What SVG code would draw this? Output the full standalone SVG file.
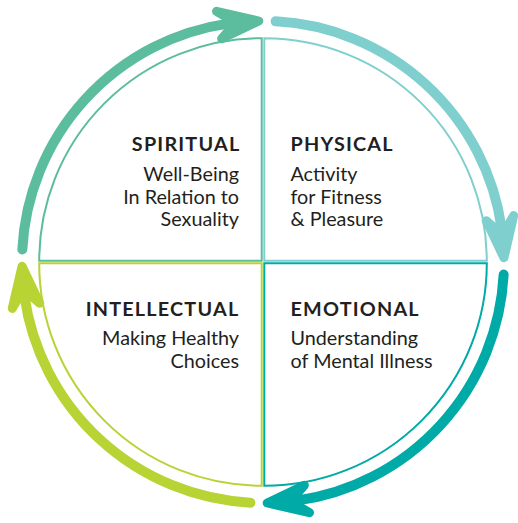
<svg xmlns="http://www.w3.org/2000/svg" width="518" height="523" viewBox="0 0 518 523">
<style>
.q{fill:none;stroke-width:2}
.shaft{fill:none;stroke-width:10;stroke-linecap:round}
.head{stroke-width:9;stroke-linejoin:round}
.c1{stroke:#5bbd9e;fill:#5bbd9e}
.c2{stroke:#7fcfcf;fill:#7fcfcf}
.c3{stroke:#00aaa6;fill:#00aaa6}
.c4{stroke:#b7d334;fill:#b7d334}
.h{font-family:Lato,"Liberation Sans",sans-serif;font-weight:700;font-size:19.8px;letter-spacing:1.2px;fill:#231f20}
.t{font-family:Lato,"Liberation Sans",sans-serif;font-size:19.8px;fill:#231f20}
.r{text-anchor:end}
</style>
<rect width="518" height="523" fill="#ffffff"/>
<g id="spiritual">
<path class="q" stroke="#5bbd9e" d="M261.7 260.7 L39.2 260.7 A222.5 222.5 0 0 1 261.7 38.2 Z"/>
<text class="h r" x="240.4" y="151">SPIRITUAL</text>
<text class="t r" x="239" y="181">Well-Being</text>
<text class="t r" x="239" y="203.5">In Relation to</text>
<text class="t r" x="239" y="226">Sexuality</text>
</g>
<g id="physical">
<path class="q" stroke="#7fcfcf" d="M264.3 260.7 L264.3 38.2 A222.5 222.5 0 0 1 486.8 260.7 Z"/>
<text class="h" x="290.5" y="151">PHYSICAL</text>
<text class="t" x="290.5" y="181">Activity</text>
<text class="t" x="290.5" y="203.5">for Fitness</text>
<text class="t" x="290.5" y="226">&amp; Pleasure</text>
</g>
<g id="emotional">
<path class="q" stroke="#00aaa6" d="M264.3 263.3 L486.8 263.3 A222.5 222.5 0 0 1 264.3 485.8 Z"/>
<text class="h" x="290.5" y="316">EMOTIONAL</text>
<text class="t" x="290.5" y="345">Understanding</text>
<text class="t" x="290.5" y="368">of Mental Illness</text>
</g>
<g id="intellectual">
<path class="q" stroke="#b7d334" d="M261.7 263.3 L261.7 485.8 A222.5 222.5 0 0 1 39.2 263.3 Z"/>
<text class="h r" x="239.4" y="316">INTELLECTUAL</text>
<text class="t r" x="239" y="345">Making Healthy</text>
<text class="t r" x="239" y="368">Choices</text>
</g>
<g id="connectors">
<g class="c1">
<path class="shaft" d="M22.33 249.39 A241 241 0 0 1 229.46 23.34"/>
<path class="head" d="M258.79 21.04 L216.53 11.27 L235.72 22.55 L221.63 38.8 Z"/>
</g>
<g class="c2" transform="rotate(90 263 262)">
<path class="shaft" d="M22.33 249.39 A241 241 0 0 1 229.46 23.34"/>
<path class="head" d="M258.79 21.04 L216.53 11.27 L235.72 22.55 L221.63 38.8 Z"/>
</g>
<g class="c3" transform="rotate(180 263 262)">
<path class="shaft" d="M22.33 249.39 A241 241 0 0 1 229.46 23.34"/>
<path class="head" d="M258.79 21.04 L216.53 11.27 L235.72 22.55 L221.63 38.8 Z"/>
</g>
<g class="c4" transform="rotate(270 263 262)">
<path class="shaft" d="M22.33 249.39 A241 241 0 0 1 229.46 23.34"/>
<path class="head" d="M258.79 21.04 L216.53 11.27 L235.72 22.55 L221.63 38.8 Z"/>
</g>
</g>
</svg>
